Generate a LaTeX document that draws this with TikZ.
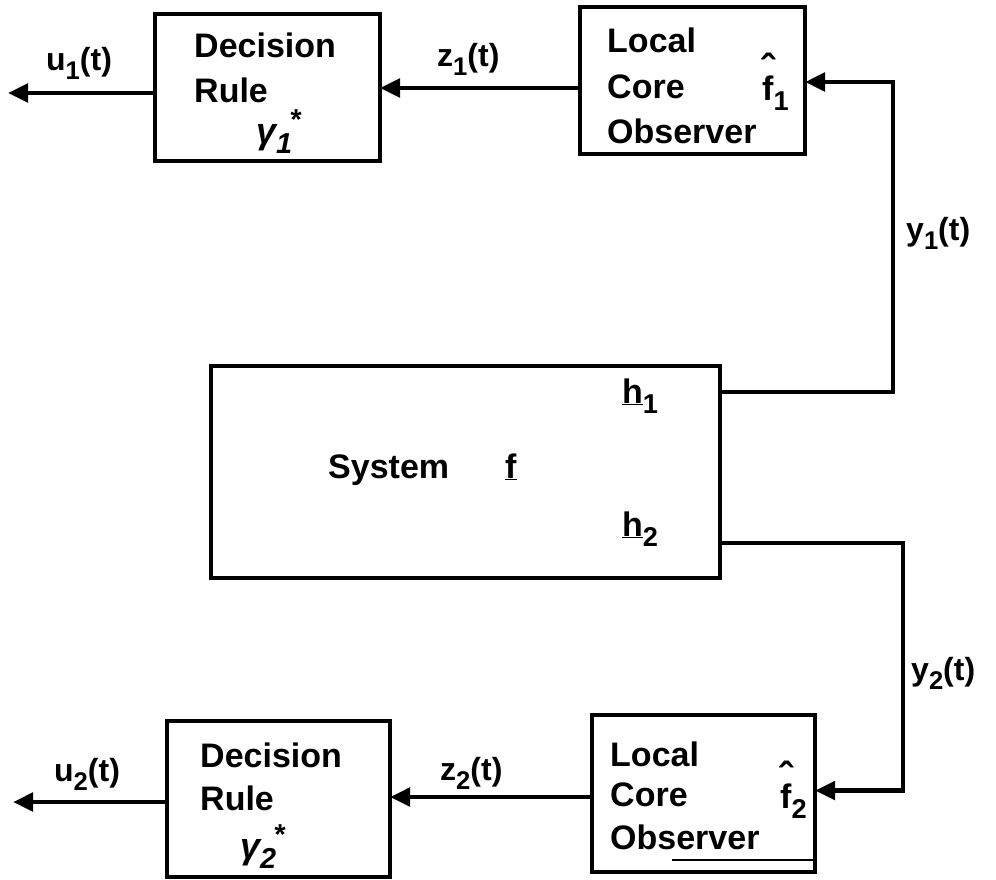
\documentclass[tikz,border=0pt]{standalone}
\usepackage{fontspec}
\setmainfont{Liberation Sans}
\usetikzlibrary{arrows.meta,calc}
\newcommand{\lsub}[1]{\raisebox{-0.3em}{\scalebox{0.8}{#1}}}
\newcommand{\gsubsup}[2]{\lsub{#2}\kern-0.08em\raisebox{0.38em}{\scalebox{0.8}{#1}}}
\newcommand{\fhat}{\ooalign{f\cr\hidewidth\raisebox{0.5em}{\scalebox{1.2}{ˆ}}\hidewidth\cr}}
\tikzset{
  blk/.style={draw, line width=3.8pt, rectangle, inner sep=0pt, outer sep=0pt},
  conn/.style={line width=4.8pt},
  arr/.style={conn, -{Triangle[length=20pt,width=18pt]}},
  boxtxt/.style={anchor=base west, inner sep=0pt, font=\fontsize{34}{40}\selectfont\bfseries},
  lbl/.style={anchor=base west, inner sep=0pt, font=\fontsize{32}{36}\selectfont\bfseries},
}
\begin{document}
\begin{tikzpicture}[x=1pt,y=-1pt]
\useasboundingbox (0,0) rectangle (996,879);
% boxes
\node[blk, minimum width=225pt, minimum height=147pt] (DR1) at (267.5,87.5) {};
\node[blk, minimum width=225pt, minimum height=147pt] (LCO1) at (692.5,80.5) {};
\node[blk, minimum width=509pt, minimum height=212pt] (SYS) at (465.5,472) {};
\node[blk, minimum width=223pt, minimum height=156pt] (DR2) at (278.5,799) {};
\node[blk, minimum width=223pt, minimum height=157pt] (LCO2) at (703.5,793.5) {};
% box texts
\node[boxtxt] (DR1a) at (194,57) {Decision};
\node[boxtxt] (DR1b) at (194,102) {Rule};
\node[boxtxt, font=\fontsize{36}{40}\selectfont\bfseries\itshape] (DR1g) at (256,143) {γ\gsubsup{*}{1}};
\node[boxtxt] (LCO1a) at (607,52) {Local};
\node[boxtxt] (LCO1b) at (607,98) {Core};
\node[boxtxt] (LCO1c) at (607,143) {Observer};
\node[boxtxt] (LCO1f) at (762,100) {\fhat\lsub{1}};
\node[boxtxt] (SYSa) at (328,478) {System};
\node[boxtxt] (SYSf) at (505,478) {\underline{f}};
\node[boxtxt] (SYSh1) at (622,403) {\underline{h}\lsub{1}};
\node[boxtxt] (SYSh2) at (622,536) {\underline{h}\lsub{2}};
\node[boxtxt] (DR2a) at (200,767) {Decision};
\node[boxtxt] (DR2b) at (200,810) {Rule};
\node[boxtxt, font=\fontsize{36}{40}\selectfont\bfseries\itshape] (DR2g) at (240,858) {γ\gsubsup{*}{2}};
\node[boxtxt] (LCO2a) at (610,766) {Local};
\node[boxtxt] (LCO2b) at (610,806) {Core};
\node[boxtxt] (LCO2c) at (610,849) {Observer};
\node[boxtxt] (LCO2f) at (780,808) {\fhat\lsub{2}};
\draw[line width=1.3pt] (672,860) -- (813,860);
% labels
\node[lbl] (u1) at (46,70) {u\lsub{1}(t)};
\node[lbl] (z1) at (437,66) {z\lsub{1}(t)};
\node[lbl] (y1) at (906,240) {y\lsub{1}(t)};
\node[lbl] (u2) at (54,781) {u\lsub{2}(t)};
\node[lbl] (z2) at (440,780) {z\lsub{2}(t)};
\node[lbl] (y2) at (911,680) {y\lsub{2}(t)};
% connectors
\coordinate (u1end) at (8,93);
\coordinate (u2end) at (13,802);
\coordinate (c1) at (893,392);
\coordinate (c2) at (903,543);
\draw[arr] ($(DR1.west)+(0,5.5)$) -- (u1end);
\draw[arr] ($(LCO1.west)+(0,7.5)$) coordinate (z1s) -- (DR1.east |- z1s);
\draw[arr] (SYS.east |- c1) -- (c1) |- ($(LCO1.east)+(0,1.5)$);
\draw[arr] (SYS.east |- c2) -- (c2) |- ($(LCO2.east)+(0,-3)$);
\draw[arr] ($(LCO2.west)+(0,3.5)$) coordinate (z2s) -- (DR2.east |- z2s);
\draw[arr] ($(DR2.west)+(0,3)$) -- (u2end);
\end{tikzpicture}
\end{document}
